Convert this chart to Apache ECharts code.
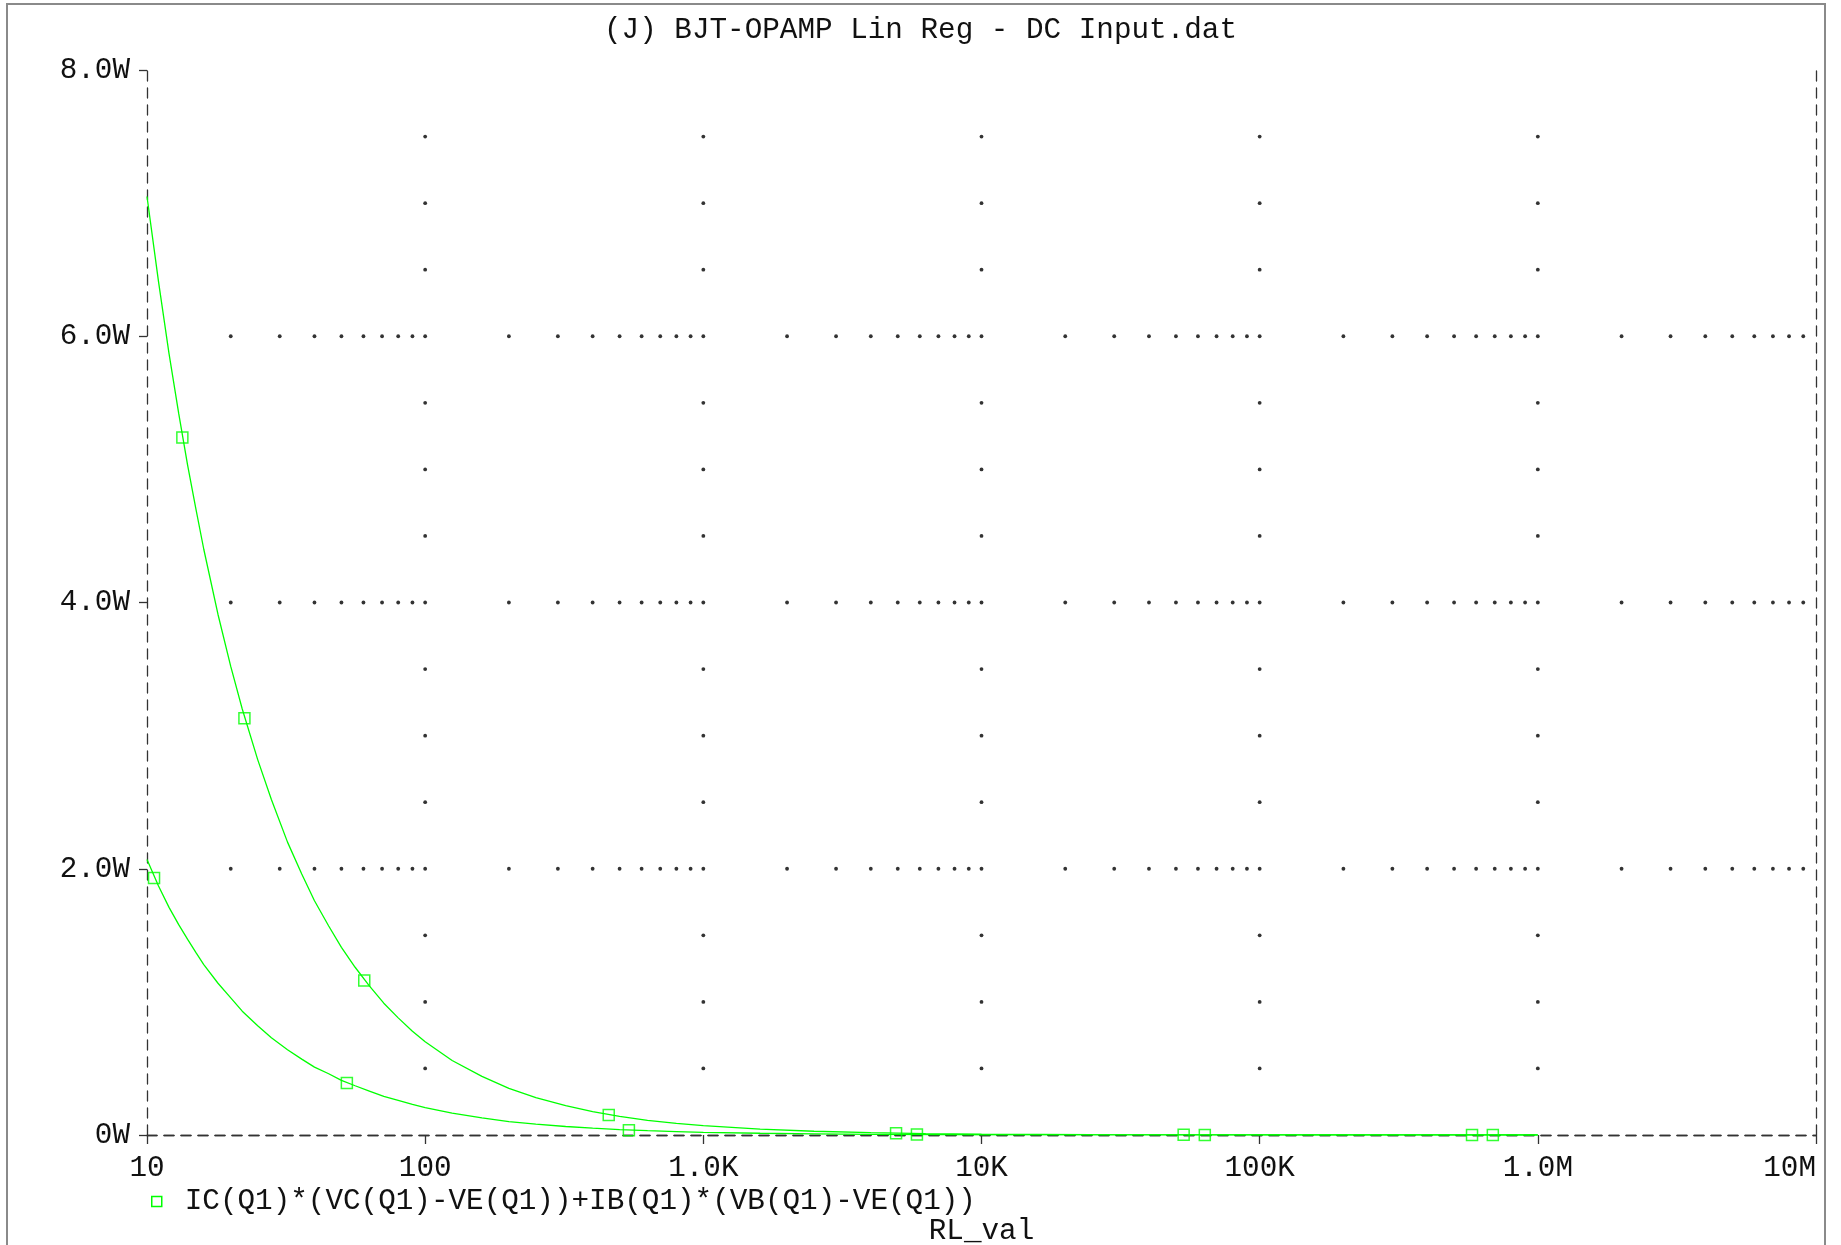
<!DOCTYPE html>
<html><head><meta charset="utf-8">
<script src="https://cdn.jsdelivr.net/npm/echarts@6/dist/echarts.min.js"></script>
<style>html,body{margin:0;padding:0;background:#fff}#c{width:1841px;height:1245px}</style>
</head><body><div id="c"></div>
<script>
// ---- data ----
const titleText = '(J) BJT-OPAMP Lin Reg - DC Input.dat';
const xAxisTitle = 'RL_val';
const seriesName = 'IC(Q1)*(VC(Q1)-VE(Q1))+IB(Q1)*(VB(Q1)-VE(Q1))';
const xTickValues = [10, 100, 1000, 10000, 100000, 1000000, 10000000];
const xTickLabels = ['10', '100', '1.0K', '10K', '100K', '1.0M', '10M'];
const yTickValues = [0, 2, 4, 6, 8];
const yTickLabels = ['0W', '2.0W', '4.0W', '6.0W', '8.0W'];

const rl = [10, 11, 12, 13, 14, 15, 16, 18, 20, 22, 25, 28, 32, 36, 40, 45, 50, 56, 63, 71, 80, 90, 100, 125, 160, 200, 250, 320, 400, 500, 630, 800, 1000, 1600, 2500, 4000, 6300, 10000, 25000, 63000, 160000, 400000, 1000000];
const powerUpper = [7.05, 6.41, 5.87, 5.42, 5.03, 4.70, 4.40, 3.91, 3.52, 3.20, 2.82, 2.52, 2.20, 1.96, 1.76, 1.57, 1.41, 1.26, 1.12, 0.99, 0.88, 0.78, 0.70, 0.56, 0.44, 0.35, 0.28, 0.22, 0.176, 0.14, 0.11, 0.088, 0.07, 0.044, 0.028, 0.018, 0.011, 0.007, 0.003, 0.0011, 0.0004, 0.0002, 0.0001];
const powerLower = [2.07, 1.87, 1.71, 1.58, 1.47, 1.37, 1.28, 1.14, 1.03, 0.93, 0.82, 0.73, 0.64, 0.57, 0.51, 0.46, 0.41, 0.37, 0.33, 0.29, 0.26, 0.23, 0.205, 0.164, 0.128, 0.10, 0.082, 0.064, 0.051, 0.041, 0.033, 0.026, 0.02, 0.013, 0.008, 0.005, 0.0033, 0.002, 0.0008, 0.0003, 0.00013, 0.00005, 0.00002];

const markUpperR = [13.4, 22.4, 60.4, 457, 4930, 53300, 580000];
const markUpperP = [5.24, 3.13, 1.16, 0.15, 0.014, 0.0013, 0.00012];
const markLowerR = [10.6, 52.3, 540, 5860, 63500, 689000];
const markLowerP = [1.93, 0.39, 0.035, 0.0035, 0.0003, 0.00003];

// grid-dot positions (decoration built from axis ticks)
const minorMultipliers = [2, 3, 4, 5, 6, 7, 8, 9, 10];
const dotDecades = [100, 1000, 10000, 100000, 1000000];
const dotYSteps = [0.5, 1, 1.5, 2.5, 3, 3.5, 4.5, 5, 5.5, 6.5, 7, 7.5];
const hLineY = [2, 4, 6];

const FONT = "'Liberation Mono', 'DejaVu Sans Mono', monospace";
const FS = 29.3;
const GREEN = '#00ff00';
const AXIS = '#333333';

const pair = (xs, ys) => xs.map((x, i) => [x, ys[i]]);

const gridDots = [];
hLineY.forEach(y => {
  [10, 100, 1000, 10000, 100000, 1000000].forEach(d => {
    minorMultipliers.forEach(m => { if (m * d < 10000000) gridDots.push([m * d, y]); });
  });
});
dotDecades.forEach(x => dotYSteps.forEach(y => gridDots.push([x, y])));

const chart = echarts.init(document.getElementById('c'), null, {renderer: 'canvas'});
const xLabelFmt = v => { const i = xTickValues.findIndex(t => Math.abs(Math.log10(t) - Math.log10(v)) < 1e-6); return i >= 0 ? xTickLabels[i] : ''; };
const yLabelFmt = v => { const i = yTickValues.indexOf(v); return i >= 0 ? yTickLabels[i] : ''; };
const dashed = {show: true, lineStyle: {color: AXIS, width: 1.3, type: [10, 7]}};

chart.setOption({
  animation: false,
  backgroundColor: '#ffffff',
  title: {text: titleText, left: 'center', top: 11, textStyle: {fontFamily: FONT, fontSize: FS, fontWeight: 'normal', color: '#111'}},
  graphic: [{type: 'rect', shape: {x: 7, y: 4, width: 1818, height: 1260}, style: {fill: 'none', stroke: '#8a8a8a', lineWidth: 2}, silent: true, z: -1}],
  grid: {left: 147, right: 25, top: 70, bottom: 110, containLabel: false, outerBoundsMode: 'none'},
  legend: {
    data: [{name: seriesName, icon: 'rect', itemStyle: {color: '#ffffff', borderColor: GREEN, borderWidth: 1.5}}],
    left: 146, top: 1182, itemWidth: 10, itemHeight: 10,
    textStyle: {fontFamily: FONT, fontSize: FS, color: '#111', padding: [0, 0, 0, 18]}
  },
  xAxis: [
    {type: 'log', logBase: 10, min: 10, max: 10000000, interval: 1, position: 'bottom',
     name: xAxisTitle, nameLocation: 'middle', nameGap: 82, nameTextStyle: {fontFamily: FONT, fontSize: FS, color: '#111'},
     axisLine: dashed, axisTick: {show: true, length: 9, lineStyle: {color: AXIS, width: 1.3}},
     axisLabel: {formatter: xLabelFmt, margin: 19, fontFamily: FONT, fontSize: FS, color: '#111', alignMaxLabel: 'right'},
     splitLine: {show: false}, minorTick: {show: false}},
    {type: 'log', logBase: 10, min: 10, max: 10000000, position: 'top',
     axisLine: dashed, axisTick: {show: false}, axisLabel: {show: false}, splitLine: {show: false}}
  ],
  yAxis: [
    {type: 'value', min: 0, max: 8, interval: 2, position: 'left',
     axisLine: dashed, axisTick: {show: true, length: 8, lineStyle: {color: AXIS, width: 1.3}},
     axisLabel: {formatter: yLabelFmt, margin: 17, fontFamily: FONT, fontSize: FS, color: '#111'},
     splitLine: {show: false}},
    {type: 'value', min: 0, max: 8, interval: 2, position: 'right',
     axisLine: dashed, axisTick: {show: false}, axisLabel: {show: false}, splitLine: {show: false}}
  ],
  series: [
    {name: 'grid', type: 'scatter', data: gridDots, symbol: 'circle', symbolSize: 3.8, silent: true,
     itemStyle: {color: '#000'}, z: 1},
    {name: seriesName, type: 'line', data: pair(rl, powerUpper), showSymbol: false, smooth: false,
     lineStyle: {color: GREEN, width: 1.3}, itemStyle: {color: GREEN}, z: 3},
    {name: seriesName, type: 'line', data: pair(rl, powerLower), showSymbol: false, smooth: false,
     lineStyle: {color: GREEN, width: 1.3}, itemStyle: {color: GREEN}, z: 3},
    {name: seriesName, type: 'scatter', data: pair(markUpperR, markUpperP), symbol: 'rect', symbolSize: 11,
     itemStyle: {color: 'rgba(255,255,255,0)', borderColor: GREEN, borderWidth: 1.5}, z: 4},
    {name: seriesName, type: 'scatter', data: pair(markLowerR, markLowerP), symbol: 'rect', symbolSize: 11,
     itemStyle: {color: 'rgba(255,255,255,0)', borderColor: GREEN, borderWidth: 1.5}, z: 4}
  ]
});
</script></body></html>
